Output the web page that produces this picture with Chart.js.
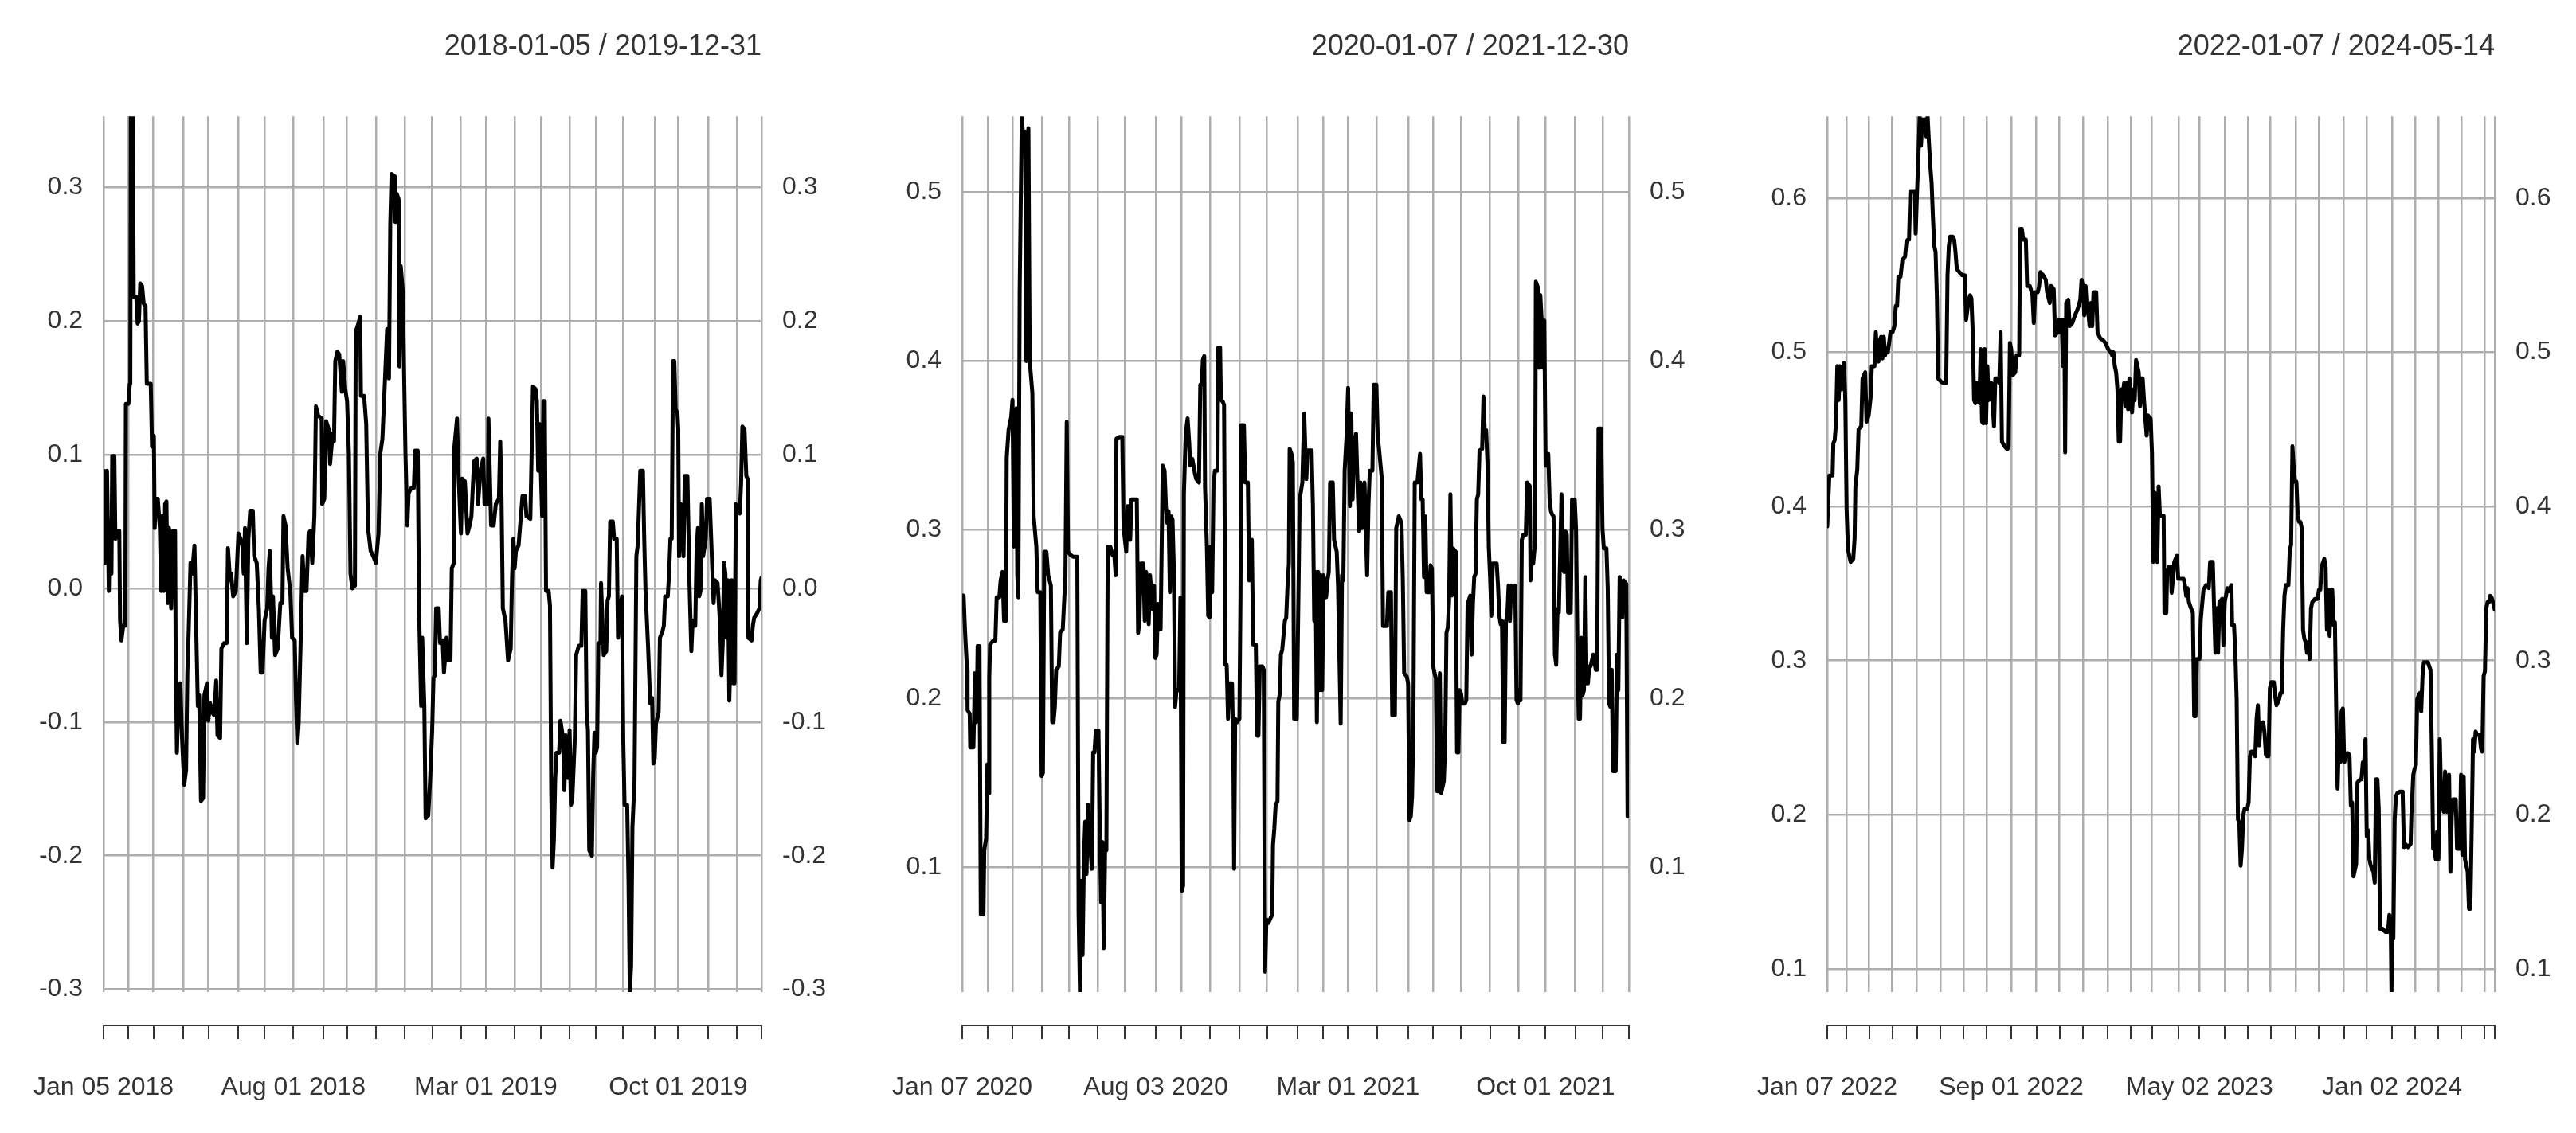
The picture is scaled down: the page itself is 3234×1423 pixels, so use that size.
<!DOCTYPE html>
<html>
<head>
<meta charset="utf-8">
<script src="https://cdn.jsdelivr.net/npm/chart.js@4.4.1/dist/chart.umd.min.js"></script>
<style>
html,body{margin:0;padding:0;background:#ffffff;}
#wrap{position:relative;width:3234px;height:1423px;overflow:hidden;background:#ffffff;}
.panel{position:absolute;top:0;height:1423px;}
canvas{display:block;}
</style>
</head>
<body>
<div id="wrap">
  <div class="panel" style="left:0px;width:1078px"><canvas id="c1" width="1078" height="1423"></canvas></div>
  <div class="panel" style="left:1078px;width:1078px"><canvas id="c2" width="1078" height="1423"></canvas></div>
  <div class="panel" style="left:2156px;width:1078px"><canvas id="c3" width="1078" height="1423"></canvas></div>
</div>
<script>
// ---------------- Panel 1: 2018-01-05 / 2019-12-31 ----------------
const p1Title = '2018-01-05 / 2019-12-31';
// [observation index, value]
const p1Points = [[0,0.088],[1,0.019],[2.6,0.088],[4,-0.002],[5,0.050],[6,0.011],[6.6,0.099],[8.2,0.099],[9,0.037],[10,0.043],[12,0.043],[12.6,-0.024],[13.6,-0.039],[15,-0.028],[16.6,-0.028],[17,0.138],[19,0.138],[20,0.153],[20.4,0.153],[20.8,0.353],[22.4,0.353],[23,0.218],[25,0.218],[26,0.198],[27,0.200],[28,0.228],[29.4,0.226],[30.6,0.213],[32,0.211],[33,0.153],[36,0.153],[37,0.106],[38.4,0.114],[39,0.045],[40,0.067],[41.4,0.067],[43,0.045],[44,-0.002],[45,0.054],[46,-0.002],[47,0.063],[48,0.065],[49,-0.011],[50,0.045],[51.6,-0.015],[53,0.043],[54.6,0.043],[55,-0.037],[56,-0.123],[57,-0.088],[58.6,-0.071],[60,-0.114],[61.6,-0.147],[63,-0.136],[64,-0.063],[65,-0.032],[66.4,0.019],[67.6,0.011],[69.4,0.032],[70.4,-0.015],[72,-0.088],[73,-0.080],[74.4,-0.159],[76,-0.157],[77,-0.080],[79,-0.071],[80,-0.099],[81.4,-0.086],[83,-0.093],[84.6,-0.095],[86,-0.069],[87,-0.110],[89,-0.112],[90,-0.045],[92,-0.041],[94,-0.041],[95,0.030],[96.6,0.006],[97.4,0.011],[99,-0.006],[101,-0.002],[103,0.041],[104.6,0.037],[106,0.032],[107,0.011],[108,0.045],[109.4,-0.041],[110.6,0.037],[112,0.058],[114,0.058],[115,0.024],[117,0.019],[118.6,-0.015],[120,-0.063],[121.4,-0.063],[123,-0.024],[125,-0.015],[126,0.015],[127,0.028],[128.6,-0.037],[129.4,-0.006],[131,-0.050],[133,-0.045],[135,-0.011],[136.6,-0.011],[137.4,0.054],[139,0.047],[140.6,0.015],[142.6,-0.002],[144,-0.037],[146,-0.039],[147,-0.084],[148,-0.116],[149,-0.101],[150.6,-0.037],[152,0.024],[153.4,-0.002],[155,-0.002],[156.6,0.041],[158,0.043],[159.4,0.019],[161,0.054],[162.2,0.136],[164,0.129],[166.6,0.127],[167,0.063],[168.6,0.067],[170,0.125],[172,0.119],[173,0.093],[175,0.116],[176,0.110],[177,0.170],[178.6,0.177],[180,0.175],[182,0.147],[183,0.170],[184.6,0.149],[186,0.140],[187.4,0.101],[188.6,0.011],[190,0.000],[192,0.002],[192.6,0.192],[194,0.196],[196,0.203],[196.6,0.144],[199,0.144],[200.6,0.123],[202,0.045],[204,0.028],[206,0.024],[208,0.019],[210,0.041],[211.4,0.101],[213,0.112],[215,0.157],[216.6,0.194],[218,0.157],[219,0.272],[220,0.310],[222.6,0.308],[223,0.274],[224,0.295],[225.4,0.291],[226,0.166],[227,0.241],[228.6,0.222],[229.4,0.170],[230.6,0.101],[232,0.047],[233,0.071],[235,0.075],[237,0.075],[238,0.103],[240,0.103],[241,-0.017],[242.6,-0.088],[243.4,-0.037],[245,-0.088],[246,-0.172],[248,-0.170],[249.4,-0.144],[251,-0.106],[252,-0.067],[253,-0.065],[254,-0.015],[256,-0.015],[257,-0.041],[259,-0.039],[260,-0.063],[262,-0.037],[263,-0.054],[265,-0.054],[266,0.015],[267.6,0.019],[268,0.106],[270,0.127],[271,0.088],[273,0.041],[274,0.082],[276,0.080],[278,0.041],[279.6,0.047],[281,0.054],[283,0.095],[285,0.097],[286,0.063],[288,0.088],[290,0.097],[291,0.063],[293.6,0.063],[294,0.127],[295,0.088],[296,0.047],[298,0.047],[299.6,0.063],[302,0.067],[303,0.110],[304,0.067],[305,-0.015],[307,-0.024],[309,-0.054],[311,-0.045],[312,0.006],[313,0.037],[314,0.015],[315,0.028],[317,0.032],[320,0.069],[322,0.069],[323,0.054],[326,0.052],[328,0.151],[330,0.149],[331,0.140],[332,0.088],[333,0.123],[335,0.054],[336,0.140],[337,0.140],[338,-0.002],[340,-0.002],[341,-0.013],[342,-0.153],[343,-0.209],[344,-0.188],[345,-0.142],[346,-0.123],[348,-0.123],[349,-0.099],[351,-0.112],[352,-0.151],[353,-0.110],[355,-0.142],[356,-0.106],[357,-0.162],[358,-0.159],[360,-0.112],[361,-0.050],[363,-0.043],[365,-0.043],[366,-0.002],[368,-0.002],[369,-0.093],[370,-0.106],[371,-0.196],[373,-0.200],[374,-0.140],[375,-0.108],[376,-0.123],[377,-0.119],[378,-0.041],[379.6,-0.041],[380,0.004],[382,-0.050],[384,-0.047],[385,-0.009],[386,-0.006],[387,0.050],[389,0.050],[390,0.037],[392,0.037],[393,-0.037],[395,-0.013],[396,-0.006],[397,-0.114],[398,-0.162],[400,-0.162],[401,-0.218],[402,-0.302],[403,-0.282],[404,-0.179],[405.6,-0.144],[407,0.024],[408,0.032],[410,0.088],[412,0.088],[413,0.037],[414,-0.002],[416,-0.045],[417.6,-0.086],[419,-0.082],[420,-0.131],[421,-0.127],[422,-0.101],[424,-0.093],[425,-0.037],[427,-0.032],[428,-0.028],[429,-0.006],[431,-0.006],[432,0.011],[433,0.037],[434,0.037],[435,0.170],[436,0.170],[437,0.134],[438.4,0.131],[439,0.119],[439.6,0.024],[441,0.063],[443,0.024],[444,0.084],[446,0.084],[447.6,0.002],[449,-0.047],[450,-0.024],[452,-0.028],[453,0.028],[454,0.045],[455,-0.006],[456,-0.002],[457,0.063],[458,0.024],[460,0.037],[461,0.067],[463,0.067],[464,0.041],[466,-0.011],[467,0.006],[469,0.004],[470,-0.011],[471,-0.028],[472,-0.065],[473,-0.041],[474,0.019],[475,0.011],[476,-0.037],[477,0.006],[478,-0.084],[479,-0.050],[480,0.006],[481,-0.071],[482,-0.071],[483,0.063],[486,0.056],[487,0.078],[488,0.121],[489.6,0.119],[491,0.084],[492,0.082],[492.6,-0.037],[495,-0.039],[496,-0.028],[497,-0.022],[499,-0.019],[501,-0.015],[502,0.006],[502.6,0.008]];
// month-start observation indices (grid lines / ticks)
const p1TickIdx = [0,19,38,61,80,103,123,145,168,186,208,230,251,273,292,314,334,356,376,397,421,439,462,484,502.6];
const p1LabelIdx = [0,145,292,439];
const p1LabelText = ['Jan 05 2018','Aug 01 2018','Mar 01 2019','Oct 01 2019'];
const p1YTicks = [-0.3,-0.2,-0.1,0.0,0.1,0.2,0.3];

// ---------------- Panel 2: 2020-01-07 / 2021-12-30 ----------------
const p2Title = '2020-01-07 / 2021-12-30';
const p2Points = [[0,0.261],[1,0.261],[2,0.241],[3.6,0.217],[4,0.193],[5.6,0.191],[6,0.171],[8.4,0.171],[9.6,0.215],[10.4,0.186],[11,0.193],[11.6,0.231],[13,0.231],[14,0.072],[16,0.072],[16.6,0.110],[18,0.117],[19,0.161],[20,0.144],[20.4,0.212],[21,0.232],[23,0.234],[25,0.234],[26,0.260],[28,0.260],[29,0.270],[30.4,0.275],[31.6,0.246],[33,0.246],[33.6,0.343],[35,0.359],[37,0.367],[38,0.377],[39,0.290],[40,0.369],[41,0.372],[41.6,0.273],[42.4,0.260],[43.4,0.442],[45,0.545],[46,0.533],[47.6,0.536],[48.4,0.400],[50,0.538],[51,0.400],[53,0.381],[54,0.308],[56,0.290],[57,0.263],[59,0.263],[60,0.154],[61,0.156],[62,0.287],[63.6,0.287],[65,0.273],[67,0.267],[68,0.186],[69,0.186],[70,0.195],[71,0.217],[73,0.219],[74,0.239],[76,0.241],[78,0.273],[79,0.364],[80,0.287],[82,0.285],[84,0.284],[87,0.284],[88,0.072],[89,0.026],[90,0.092],[91,0.048],[92,0.106],[93,0.127],[94,0.096],[95,0.137],[97,0.110],[98,0.099],[99,0.168],[100,0.168],[101,0.181],[103,0.181],[104,0.123],[105,0.079],[106,0.115],[107,0.052],[108,0.110],[109,0.110],[110,0.290],[112,0.290],[113.6,0.285],[115,0.285],[116,0.273],[116.6,0.354],[119,0.355],[121,0.355],[122,0.301],[124,0.287],[125,0.314],[126,0.314],[127,0.294],[128,0.318],[132,0.318],[133,0.239],[134,0.246],[135,0.280],[137,0.280],[138,0.246],[139,0.275],[140,0.270],[141,0.244],[142,0.273],[144,0.253],[145,0.267],[146,0.224],[147,0.226],[148,0.256],[150,0.241],[151.6,0.338],[153,0.335],[154,0.314],[155,0.304],[156,0.311],[157,0.263],[158,0.308],[159,0.306],[160,0.277],[161,0.195],[162,0.205],[164,0.205],[165,0.260],[166,0.086],[167,0.089],[167.6,0.321],[169,0.357],[170.4,0.366],[171.6,0.352],[172.4,0.338],[174,0.342],[176,0.333],[177,0.330],[179,0.328],[180,0.386],[181,0.386],[182,0.401],[183,0.403],[183.6,0.325],[185,0.290],[186,0.249],[187,0.248],[187.6,0.290],[189,0.263],[190,0.325],[191,0.335],[193,0.335],[193.6,0.408],[195,0.408],[195.6,0.377],[197,0.376],[198,0.374],[199,0.220],[200,0.220],[201,0.188],[202,0.209],[204,0.209],[205,0.169],[205.6,0.099],[206.4,0.188],[208,0.186],[209.6,0.188],[210.4,0.260],[211,0.362],[213,0.362],[214,0.328],[216,0.328],[217,0.270],[218,0.294],[219,0.294],[220,0.232],[222,0.232],[223,0.178],[224,0.178],[225,0.219],[227,0.219],[228,0.217],[229,0.038],[230,0.069],[231.6,0.067],[234.4,0.072],[235,0.113],[236,0.123],[237,0.137],[238.4,0.139],[239,0.198],[240,0.202],[241,0.226],[242,0.229],[244,0.246],[245,0.248],[246,0.267],[247,0.280],[247.6,0.348],[249,0.345],[250,0.340],[251,0.188],[253,0.188],[255.2,0.318],[257.2,0.328],[258.6,0.369],[260.2,0.330],[261.2,0.347],[264.2,0.347],[265.2,0.314],[266.2,0.246],[267.2,0.275],[268.2,0.186],[269.2,0.275],[270.2,0.205],[271.2,0.273],[272.2,0.205],[273.2,0.273],[275.2,0.260],[276.2,0.270],[277.2,0.275],[278.2,0.328],[280.2,0.328],[281.2,0.294],[283.2,0.287],[284.2,0.267],[286.2,0.185],[287.2,0.273],[288.2,0.270],[289.2,0.335],[290.6,0.355],[291.8,0.384],[293.2,0.314],[294.2,0.369],[295.2,0.318],[296.2,0.348],[297.8,0.357],[299.2,0.321],[300.2,0.299],[301.2,0.328],[302.2,0.301],[304.2,0.328],[306.2,0.273],[307.2,0.314],[308.2,0.335],[310.2,0.335],[311.2,0.386],[313.2,0.386],[314.2,0.355],[315.2,0.348],[317.2,0.331],[318.2,0.243],[321.2,0.243],[322.2,0.263],[324.2,0.263],[325.2,0.190],[327.2,0.190],[328.2,0.301],[330.2,0.308],[332.2,0.304],[333.2,0.270],[334.2,0.215],[336.2,0.213],[337.2,0.209],[338.2,0.128],[339.2,0.130],[340.2,0.142],[341.2,0.185],[342.2,0.328],[344.2,0.328],[346.2,0.345],[347.2,0.318],[348.2,0.318],[349.2,0.272],[350.2,0.308],[351.2,0.263],[353.2,0.263],[354.2,0.279],[355.2,0.277],[356.2,0.219],[357.2,0.215],[358.2,0.212],[359.2,0.145],[360.2,0.145],[361.2,0.215],[362.2,0.144],[364.2,0.151],[365.2,0.171],[366.2,0.239],[367.2,0.242],[368.2,0.258],[369.2,0.321],[370.2,0.261],[371.2,0.289],[373.2,0.287],[374.2,0.168],[375.2,0.168],[376.2,0.205],[377.2,0.203],[378.2,0.197],[380.2,0.197],[381.2,0.199],[382.2,0.256],[384.2,0.261],[385.2,0.226],[386.2,0.256],[387.2,0.272],[388.2,0.274],[389.2,0.318],[390.2,0.321],[391.2,0.347],[393.2,0.348],[394.2,0.379],[395.2,0.357],[396.2,0.359],[397.2,0.340],[398.2,0.290],[399.2,0.272],[400.2,0.249],[401.2,0.280],[404.2,0.280],[405.2,0.267],[406.2,0.249],[407.2,0.244],[408.2,0.246],[409.2,0.174],[410.2,0.174],[411.2,0.246],[412.2,0.249],[413.2,0.267],[414.2,0.246],[415.2,0.267],[417.2,0.265],[418.2,0.267],[419.2,0.199],[420.2,0.197],[421.2,0.205],[422.2,0.199],[423.2,0.294],[424.2,0.297],[426.2,0.297],[427.2,0.328],[429.2,0.326],[429.8,0.270],[430.6,0.280],[431.8,0.280],[433.2,0.292],[433.8,0.447],[435.2,0.444],[436.2,0.396],[437.2,0.439],[438.2,0.424],[439.2,0.396],[440.2,0.424],[441.2,0.338],[442.2,0.338],[443.2,0.345],[444.2,0.318],[445.2,0.311],[446.2,0.309],[447.2,0.308],[448.2,0.226],[449.2,0.220],[450.2,0.253],[451.2,0.251],[453.2,0.321],[454.2,0.277],[455.2,0.275],[456.2,0.299],[457.2,0.297],[458.2,0.251],[460.2,0.251],[461.2,0.318],[462.2,0.301],[463.2,0.318],[464.2,0.301],[465.2,0.236],[466.2,0.188],[467.2,0.188],[468.2,0.236],[469.2,0.202],[470.2,0.205],[471.2,0.272],[472.2,0.209],[473.2,0.209],[474.2,0.219],[475.2,0.219],[477.2,0.226],[479.2,0.217],[480.2,0.217],[481.2,0.360],[483.2,0.360],[484.2,0.301],[485.2,0.289],[487.2,0.289],[488.2,0.265],[489.2,0.197],[490.2,0.195],[491.2,0.217],[492.2,0.157],[494.2,0.157],[495.2,0.226],[496.2,0.205],[497.2,0.272],[498.2,0.256],[499.2,0.248],[500.2,0.270],[502.2,0.268],[503.2,0.130],[504.2,0.130]];
const p2TickIdx = [0,19.4,38,60.2,80.6,102.4,123,146.4,165.6,187.6,209.6,230.4,253.6,272.8,291.8,313.6,337.4,356.2,377.2,399.2,420.8,441.2,463.6,484.2,504.2];
const p2LabelIdx = [0,146.4,291.8,441.2];
const p2LabelText = ['Jan 07 2020','Aug 03 2020','Mar 01 2021','Oct 01 2021'];
const p2YTicks = [0.1,0.2,0.3,0.4,0.5];

// ---------------- Panel 3: 2022-01-07 / 2024-05-14 ----------------
const p3Title = '2022-01-07 / 2024-05-14';
const p3Points = [[0,0.387],[0.75,0.400],[2,0.420],[5,0.420],[5.75,0.441],[7,0.443],[8.25,0.454],[9.5,0.491],[10.75,0.469],[12,0.491],[13.25,0.476],[14.5,0.487],[15.75,0.493],[17,0.469],[18.25,0.398],[19.5,0.372],[22,0.364],[24.5,0.366],[25.75,0.379],[26.5,0.413],[28.25,0.424],[29.5,0.450],[32,0.452],[33.25,0.483],[35.75,0.487],[37,0.455],[39,0.459],[40.75,0.470],[42,0.491],[44.5,0.491],[45.75,0.513],[47,0.496],[48.25,0.494],[49.5,0.508],[50.75,0.510],[52,0.496],[53.25,0.510],[54.5,0.498],[55.75,0.502],[57,0.500],[58.25,0.506],[59.5,0.513],[61.5,0.513],[63.25,0.517],[64.5,0.530],[65.75,0.530],[67,0.549],[69,0.549],[70.75,0.560],[73.25,0.562],[74.5,0.571],[75.75,0.573],[77,0.573],[78.25,0.604],[80.75,0.604],[82.5,0.604],[83.25,0.577],[84.5,0.603],[85.75,0.625],[87,0.653],[88.25,0.634],[89.5,0.651],[90.75,0.645],[92,0.651],[93.25,0.640],[94.5,0.653],[95.75,0.636],[97,0.621],[98.25,0.610],[99.5,0.588],[100.75,0.569],[102,0.565],[103.25,0.536],[104.5,0.483],[107,0.481],[109.5,0.480],[112,0.480],[113.25,0.550],[114.5,0.569],[115.75,0.575],[118.25,0.575],[119.5,0.573],[120.75,0.565],[122,0.554],[124.5,0.552],[127,0.550],[129.5,0.550],[130.75,0.521],[132,0.528],[133.25,0.534],[134.5,0.537],[135.75,0.535],[137,0.513],[138.25,0.469],[139.5,0.467],[140.75,0.480],[142,0.473],[143.25,0.467],[144.5,0.502],[145.75,0.455],[147,0.454],[148.25,0.502],[149.5,0.454],[150.75,0.491],[152,0.469],[154.5,0.480],[157,0.452],[158.25,0.483],[160.75,0.483],[162,0.480],[163.25,0.513],[164.5,0.442],[167,0.439],[169.5,0.437],[170.75,0.439],[172,0.506],[173.25,0.502],[174.5,0.485],[177,0.487],[178.25,0.498],[180.75,0.498],[181.5,0.580],[183.25,0.580],[184.5,0.573],[187,0.573],[188.25,0.543],[190.75,0.543],[193.25,0.537],[194.5,0.519],[195.75,0.539],[198.25,0.539],[199.5,0.543],[200.75,0.552],[203.25,0.550],[205.75,0.547],[207,0.539],[209.5,0.532],[210.75,0.543],[213.25,0.541],[214.5,0.511],[217,0.513],[218.25,0.521],[219.5,0.513],[220.75,0.521],[222,0.491],[223.25,0.521],[224,0.435],[225,0.532],[227,0.534],[228.25,0.517],[230.75,0.519],[233.25,0.524],[235.75,0.528],[238.25,0.534],[239.5,0.547],[240.75,0.543],[242,0.524],[243.25,0.543],[244.5,0.528],[245.75,0.526],[247,0.517],[248.25,0.532],[249.5,0.517],[250.75,0.539],[253.25,0.539],[254.5,0.513],[257,0.509],[259.5,0.508],[262,0.506],[264.5,0.502],[267,0.500],[268.25,0.498],[269.5,0.500],[270.75,0.491],[272,0.487],[273.25,0.476],[274.5,0.442],[275.75,0.442],[277,0.476],[278.25,0.472],[279.5,0.480],[280.75,0.465],[282,0.480],[283.25,0.463],[284.5,0.483],[285.75,0.469],[287,0.461],[288.25,0.476],[289.5,0.469],[290.75,0.495],[292,0.491],[293.25,0.487],[294.5,0.465],[295.75,0.483],[297,0.483],[298.25,0.469],[299.5,0.457],[300.75,0.446],[302,0.459],[304.5,0.457],[305.75,0.435],[307,0.364],[308.25,0.409],[309.5,0.379],[310.75,0.364],[312,0.413],[313.25,0.394],[314.25,0.394],[316.75,0.394],[317.5,0.331],[319.25,0.331],[320,0.357],[321.75,0.361],[323.5,0.361],[324.25,0.344],[325.5,0.353],[326.75,0.364],[329.25,0.368],[330.5,0.353],[333,0.353],[335.5,0.353],[336.75,0.349],[338,0.342],[339.25,0.347],[340.5,0.338],[342.5,0.334],[344.25,0.331],[345.5,0.264],[346.75,0.264],[348,0.301],[350.5,0.301],[351.75,0.327],[354.25,0.346],[356.75,0.349],[359.25,0.347],[360.5,0.364],[363,0.364],[364.25,0.334],[365.5,0.305],[366.75,0.334],[368,0.305],[369.25,0.338],[371.75,0.340],[373,0.310],[374.25,0.338],[376.75,0.347],[378,0.345],[379.25,0.347],[380.5,0.349],[381.25,0.323],[383,0.323],[384.25,0.305],[385.5,0.275],[386.75,0.197],[388,0.195],[389.25,0.167],[390.5,0.178],[391.75,0.200],[393,0.204],[395.5,0.204],[396.75,0.208],[398,0.238],[399.25,0.241],[401.75,0.241],[403,0.238],[404.25,0.262],[405.5,0.271],[406.75,0.245],[408,0.260],[409.25,0.256],[410.5,0.260],[411.75,0.253],[413,0.239],[414.25,0.238],[415.5,0.238],[416.75,0.282],[418,0.286],[420.5,0.286],[421.75,0.277],[423,0.271],[425.5,0.275],[426.75,0.279],[428,0.279],[429.25,0.320],[430.5,0.342],[431.75,0.349],[434.25,0.349],[435.5,0.372],[436.75,0.375],[438,0.439],[439.25,0.424],[440.5,0.416],[441.75,0.416],[443,0.394],[444.25,0.390],[445.5,0.390],[446.75,0.386],[448,0.320],[449.25,0.314],[450.5,0.312],[451.75,0.305],[453,0.312],[454.25,0.301],[455.5,0.334],[456.75,0.338],[459.25,0.340],[461.75,0.340],[463,0.346],[464.25,0.346],[465.5,0.361],[468,0.366],[469.25,0.361],[470.5,0.320],[471.75,0.346],[473,0.316],[474.25,0.346],[475.5,0.346],[476.75,0.323],[478,0.325],[479.25,0.267],[480.5,0.217],[481.75,0.249],[483,0.234],[484.25,0.267],[485.5,0.269],[486.75,0.234],[489.25,0.240],[490.5,0.240],[491.75,0.238],[493,0.206],[494.25,0.208],[495.5,0.160],[498,0.168],[499.25,0.221],[501.75,0.223],[503,0.223],[504.25,0.234],[505.5,0.234],[506.75,0.249],[508,0.186],[509.25,0.190],[510.5,0.171],[511.75,0.167],[514.25,0.163],[515.5,0.156],[516.75,0.223],[518,0.223],[519.25,0.204],[520.5,0.126],[523,0.126],[525.5,0.124],[528,0.124],[529.25,0.135],[530.5,0.133],[531.25,0.085],[531.75,0.120],[533,0.120],[534.25,0.197],[535.5,0.212],[536.75,0.214],[539.25,0.215],[541.75,0.215],[543,0.179],[544.25,0.181],[546.75,0.179],[549.25,0.181],[550,0.200],[551.75,0.226],[553,0.230],[554.25,0.232],[555.5,0.275],[556.75,0.277],[558,0.279],[559.25,0.267],[560.5,0.290],[561.75,0.299],[563,0.299],[565.5,0.299],[568,0.294],[569.25,0.243],[570.5,0.178],[571.75,0.178],[573,0.171],[574.25,0.189],[575.5,0.171],[576.75,0.249],[578,0.212],[580.5,0.202],[581.75,0.228],[583,0.202],[585.5,0.226],[586.75,0.163],[588,0.200],[589.25,0.210],[591.75,0.210],[593,0.178],[595.5,0.178],[596.75,0.226],[598,0.174],[599.25,0.225],[600.5,0.171],[603,0.163],[604.25,0.139],[605.5,0.139],[606.75,0.189],[608,0.249],[609.25,0.241],[610.5,0.254],[611.75,0.252],[614.25,0.252],[615.5,0.243],[616.75,0.241],[618,0.290],[619.25,0.293],[620.5,0.334],[621.75,0.338],[623,0.338],[624.25,0.342],[625.5,0.341],[626.75,0.338],[628.5,0.333]];
const p3TickIdx = [0,18.25,39.5,61.25,84.5,106.5,128.25,150,173.25,197,218.75,240.75,264,285.75,305.75,331,350.5,374.25,396,417.5,441,463,486.5,508,531.75,553.5,575.5,597.25,618.75,628.5];
const p3LabelIdx = [0,173.25,350.5,531.75];
const p3LabelText = ['Jan 07 2022','Sep 01 2022','May 02 2023','Jan 02 2024'];
const p3YTicks = [0.1,0.2,0.3,0.4,0.5,0.6];

// ---------------- layout / style (not data) ----------------
const FONT = "'Liberation Sans', Arial, Helvetica, sans-serif";
const TEXT_COLOR = '#333333';
const GRID_COLOR = '#adadad';
const panels = [
  {id:'c1', width:1078, plotLeft:118, plotRight:956, title:p1Title, points:p1Points, ticks:p1TickIdx, labelIdx:p1LabelIdx, labelText:p1LabelText, yTicks:p1YTicks},
  {id:'c2', width:1078, plotLeft:127, plotRight:967, title:p2Title, points:p2Points, ticks:p2TickIdx, labelIdx:p2LabelIdx, labelText:p2LabelText, yTicks:p2YTicks},
  {id:'c3', width:1078, plotLeft:138, plotRight:976, title:p3Title, points:p3Points, ticks:p3TickIdx, labelIdx:p3LabelIdx, labelText:p3LabelText, yTicks:p3YTicks}
];

function fmt(v){
  let s = (Math.round(v * 10) / 10).toFixed(1);
  if (s === '-0.0') s = '0.0';
  return s;
}

function makeChart(p){
  const xs = p.points.map(d => d[0]);
  const ys = p.points.map(d => d[1]);
  const xmin = Math.min(...xs), xmax = Math.max(...xs);
  const ymin = Math.min(...ys), ymax = Math.max(...ys);
  const tickFont = {family: FONT, size: 32, weight: 'normal'};
  const setXTicks = s => { s.ticks = p.ticks.map(v => ({value: v})); };
  const setYTicks = s => { s.ticks = p.yTicks.map(v => ({value: v})); };
  return new Chart(document.getElementById(p.id), {
    type: 'line',
    data: {
      datasets: [{
        data: p.points.map(d => ({x: d[0], y: d[1]})),
        borderColor: '#000000',
        borderWidth: 5,
        pointRadius: 0,
        tension: 0,
        fill: false,
        borderJoinStyle: 'round',
        borderCapStyle: 'round',
        xAxisID: 'x',
        yAxisID: 'y'
      }]
    },
    options: {
      responsive: false,
      animation: false,
      events: [],
      layout: {padding: 0},
      plugins: {
        legend: {display: false},
        tooltip: {enabled: false},
        title: {
          display: true,
          text: p.title,
          align: 'end',
          fullSize: false,
          color: TEXT_COLOR,
          font: {family: FONT, size: 36, weight: 'normal', lineHeight: 1.2},
          padding: {top: 37, bottom: 66}
        }
      },
      scales: {
        x: {
          type: 'linear', position: 'bottom', weight: 0,
          min: xmin, max: xmax,
          afterBuildTicks: setXTicks,
          afterFit: s => { s.height = 42; },
          ticks: {display: false},
          grid: {color: GRID_COLOR, lineWidth: 2.5, drawTicks: false},
          border: {display: false}
        },
        x2: {
          type: 'linear', position: 'bottom', weight: 1,
          min: xmin, max: xmax,
          afterBuildTicks: setXTicks,
          afterFit: s => { s.height = 135; },
          ticks: {
            autoSkip: false, maxRotation: 0, minRotation: 0, padding: 42,
            color: TEXT_COLOR, font: tickFont,
            callback: v => { const i = p.labelIdx.indexOf(v); return i >= 0 ? p.labelText[i] : ''; }
          },
          grid: {drawOnChartArea: false, drawTicks: true, tickLength: 17, color: TEXT_COLOR, lineWidth: 2},
          border: {display: true, color: TEXT_COLOR, width: 2}
        },
        y: {
          type: 'linear', position: 'left',
          min: ymin, max: ymax,
          afterBuildTicks: setYTicks,
          afterFit: s => { s.width = p.plotLeft; },
          ticks: {padding: 26, color: TEXT_COLOR, font: tickFont, callback: v => fmt(v)},
          grid: {color: GRID_COLOR, lineWidth: 2.5, drawTicks: false},
          border: {display: false}
        },
        y2: {
          type: 'linear', position: 'right',
          min: ymin, max: ymax,
          afterBuildTicks: setYTicks,
          afterFit: s => { s.width = p.width - p.plotRight; },
          ticks: {padding: 26, color: TEXT_COLOR, font: tickFont, callback: v => fmt(v)},
          grid: {display: false, drawOnChartArea: false, drawTicks: false, tickLength: 0},
          border: {display: false}
        }
      }
    }
  });
}

panels.forEach(makeChart);
</script>
</body>
</html>
